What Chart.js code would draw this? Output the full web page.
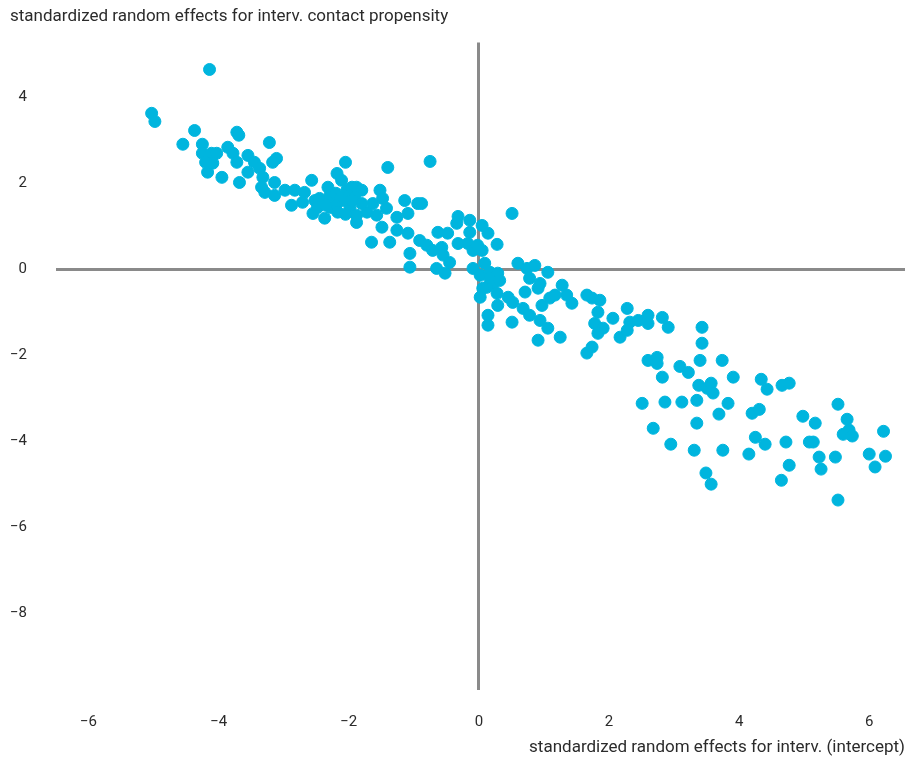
<!DOCTYPE html>
<html>
<head>
<meta charset="utf-8">
<script src="https://cdn.jsdelivr.net/npm/chart.js@4/dist/chart.umd.min.js"></script>
<style>
html,body{margin:0;padding:0;background:#fff;}
#c{display:block;}
</style>
</head>
<body>
<canvas id="c" width="913" height="760"></canvas>
<script>
// ---- data ----
const xTitle = 'standardized random effects for interv. (intercept)';
const yTitle = 'standardized random effects for interv. contact propensity';
const xTicks = [-6, -4, -2, 0, 2, 4, 6];
const yTicks = [4, 2, 0, -2, -4, -6, -8];
const xRange = [-6.5, 6.55];
const yRange = [-9.79, 5.28];

// random-effect estimates: intercept (x) and contact propensity (y)
const interceptX = [
  -5.03,-4.98,-4.14,-4.55,-4.37,-4.25,-4.25,-4.11,-4.03,-4.17,-3.95,-4.09,-3.86,-3.78,-3.72,-3.69,-3.72,-3.68,-3.55,-3.55,
  -3.45,-3.37,-3.22,-3.11,-3.17,-3.32,-3.34,-3.29,-3.14,-3.14,-2.98,-2.83,-2.88,-2.68,-2.57,-2.71,-2.52,-2.55,-4.20,
  -2.05,-1.40,-2.18,-2.11,-2.32,-2.45,-2.37,-2.18,-2.03,-1.95,-1.88,-1.80,-1.98,-1.88,-1.72,-1.88,-1.52,-1.48,-1.63,-1.57,
  -1.42,-1.26,-1.14,-1.09,-0.94,-1.49,-1.26,-1.09,-1.65,-1.37,-0.75,-0.88,-2.29,-2.20,-2.12,-2.28,-2.17,-2.06,-1.91,-1.80,
  -2.48,-2.05,-1.95,-2.35,
  -0.91,-0.80,-1.06,-1.06,-0.63,-0.48,-0.34,-0.32,-0.14,-0.14,0.05,0.14,0.28,-0.71,-0.57,-0.55,-0.45,-0.65,-0.52,-0.32,
  -0.17,-0.09,0.05,-0.02,-0.09,0.09,0.02,0.17,0.29,0.22,0.12,0.51,0.02,0.28,0.29,0.14,0.14,0.17,0.32,0.06,
  0.45,0.52,0.51,0.60,0.74,0.86,0.78,1.06,0.71,0.91,0.94,0.68,0.78,0.94,0.97,1.09,1.17,1.28,1.35,1.43,1.06,1.25,0.91,
  1.66,1.74,1.86,1.83,1.78,1.91,1.83,2.06,2.17,1.66,1.74,2.28,2.32,2.45,2.60,2.60,2.82,2.91,2.28,3.43,3.43,
  2.60,2.74,2.74,3.40,3.74,3.09,3.22,2.82,3.91,3.38,3.51,3.57,3.60,2.51,2.86,3.12,3.35,3.83,3.69,3.35,2.68,2.95,3.31,3.75,
  4.34,4.43,4.66,4.77,4.20,4.31,4.25,4.40,4.15,4.72,4.77,4.65,4.98,5.17,5.08,5.14,5.23,5.48,5.26,5.52,5.66,5.60,5.69,5.74,
  6.00,6.25,6.09,6.22,5.52,3.49,3.57
];
const propensityY = [
  3.63,3.44,4.65,2.91,3.23,2.91,2.70,2.70,2.70,2.26,2.14,2.47,2.84,2.70,3.19,3.12,2.49,2.02,2.65,2.26,
  2.49,2.35,2.95,2.58,2.49,2.14,1.91,1.79,2.02,1.72,1.84,1.84,1.49,1.79,2.07,1.56,1.60,1.30,2.49,
  2.49,2.37,2.23,2.07,1.91,1.65,1.19,1.53,1.84,1.91,1.91,1.84,1.44,1.26,1.33,1.09,1.84,1.65,1.53,1.26,
  1.42,1.21,1.60,1.30,1.53,0.98,0.91,0.84,0.63,0.63,2.51,1.53,1.72,1.77,1.67,1.44,1.33,1.60,1.67,1.53,
  1.44,1.28,1.60,1.49,
  0.67,0.56,0.37,0.05,0.86,0.84,1.07,1.23,1.14,0.86,1.02,0.84,0.58,0.44,0.51,0.33,0.16,0.02,-0.09,0.60,
  0.60,0.44,0.44,0.56,0.02,0.14,-0.14,-0.07,-0.09,-0.33,-0.42,1.30,-0.65,-0.56,-0.84,-1.07,-1.30,-0.21,-0.26,-0.44,
  -0.65,-0.77,-1.23,0.14,0.02,0.09,-0.21,-0.07,-0.53,-0.44,-0.33,-0.91,-1.07,-1.19,-0.84,-0.67,-0.60,-0.37,-0.60,-0.79,-1.37,-1.58,-1.65,
  -0.60,-0.67,-0.72,-1.00,-1.26,-1.37,-1.49,-1.14,-1.58,-1.95,-1.81,-0.91,-1.23,-1.19,-1.07,-1.26,-1.12,-1.35,-1.42,-1.35,-1.72,
  -2.12,-2.05,-2.19,-2.12,-2.12,-2.26,-2.40,-2.51,-2.51,-2.70,-2.77,-2.65,-2.88,-3.12,-3.09,-3.09,-3.05,-3.12,-3.37,-3.58,-3.70,-4.07,-4.21,-4.21,
  -2.56,-2.79,-2.70,-2.65,-3.35,-3.26,-3.91,-4.07,-4.30,-4.02,-4.56,-4.91,-3.42,-3.58,-4.02,-4.02,-4.37,-4.37,-4.65,-3.14,-3.49,-3.84,-3.74,-3.88,
  -4.30,-4.35,-4.60,-3.77,-5.37,-4.74,-5.00
];

// ---- chart ----
const points = interceptX.map((x, i) => ({ x: x, y: propensityY[i] }));
const FONT = 'Roboto, "Open Sans", sans-serif';
const TXT = '#2b2b2b';
const AXIS = '#8a8a8a';
const minus = v => (v < 0 ? '\u2212' + Math.abs(v) : String(v));
const zeroLine = c => (c.tick && c.tick.value === 0 ? AXIS : 'rgba(0,0,0,0)');

new Chart(document.getElementById('c'), {
  type: 'scatter',
  data: {
    datasets: [{
      data: points,
      backgroundColor: '#00b5de',
      borderColor: '#00b5de',
      borderWidth: 1,
      pointRadius: 6,
      pointHoverRadius: 6
    }]
  },
  options: {
    responsive: false,
    devicePixelRatio: 1,
    animation: false,
    layout: { padding: { left: 10, right: 8, top: 0, bottom: 0 } },
    plugins: {
      legend: { display: false },
      tooltip: { enabled: false },
      title: {
        display: true,
        text: yTitle,
        align: 'start',
        color: TXT,
        font: { family: FONT, size: 17, weight: 'normal' },
        padding: { top: 7, bottom: 15 }
      }
    },
    scales: {
      x: {
        type: 'linear',
        min: xRange[0],
        max: xRange[1],
        afterBuildTicks: s => { s.ticks = xTicks.map(v => ({ value: v })); },
        afterFit: s => { s.height = 70; },
        border: { display: false },
        grid: { color: zeroLine, lineWidth: 3, drawTicks: false },
        ticks: { color: TXT, padding: 23, font: { family: FONT, size: 15 }, callback: v => minus(v), maxRotation: 0 },
        title: {
          display: true,
          text: xTitle,
          align: 'end',
          color: TXT,
          font: { family: FONT, size: 17, weight: 'normal' },
          padding: { top: 8, bottom: 2 }
        }
      },
      y: {
        type: 'linear',
        min: yRange[0],
        max: yRange[1],
        afterBuildTicks: s => { s.ticks = yTicks.map(v => ({ value: v })); },
        afterFit: s => { s.width = 46; },
        border: { display: false },
        grid: { color: zeroLine, lineWidth: 3, drawTicks: false },
        ticks: { color: TXT, padding: 29, font: { family: FONT, size: 15 }, callback: v => minus(v) }
      }
    }
  }
});
</script>
</body>
</html>
